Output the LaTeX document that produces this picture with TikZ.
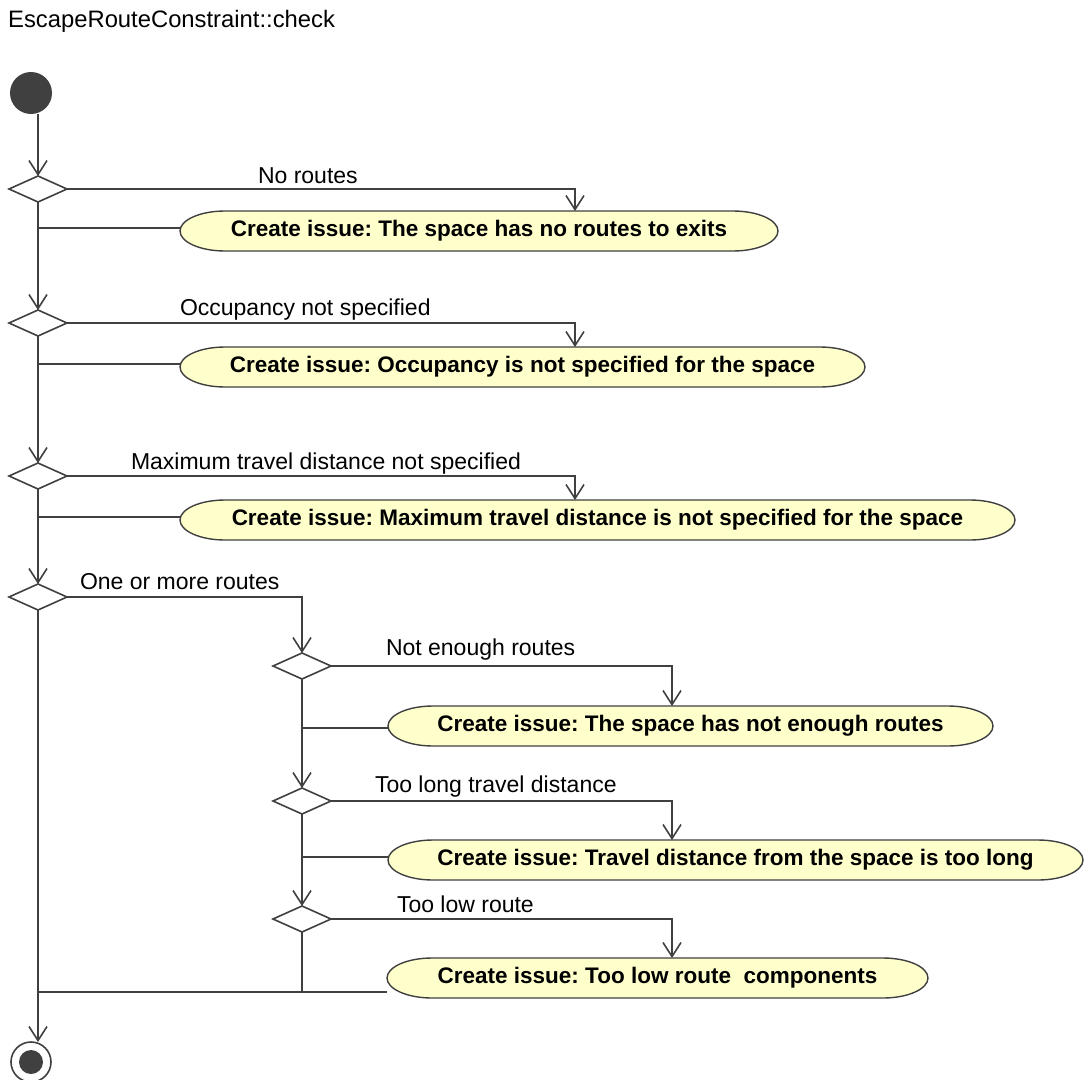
\documentclass[tikz,border=0pt]{standalone}
\usepackage{fontspec}
\setmainfont{Liberation Sans}
\usetikzlibrary{arrows.meta,shapes.geometric}
\definecolor{ink}{HTML}{404040}
\definecolor{actfill}{HTML}{FFFFCC}
\frenchspacing
\tikzset{
  line/.style={draw=ink, line width=1.6pt},
  flow/.style={line, -{Straight Barb[length=14pt,width=18pt]}},
  decision/.style={diamond, draw=ink, line width=1.6pt, fill=white, minimum width=58pt, minimum height=26pt, inner sep=0pt, outer sep=0pt},
  acttext/.style={font=\fontsize{22.5}{26}\selectfont\bfseries, inner sep=0pt, outer sep=0pt, minimum height=40pt},
  guard/.style={font=\fontsize{23}{27}\selectfont, inner sep=0pt, outer sep=0pt, anchor=base west},
  actshape/.style={draw=ink, line width=1.4pt, fill=actfill},
}
% name, left x, right x, center y, width, text
\newcommand{\actionbox}[6]{%
  \path[actshape] ({#2+45},{#4-20}) -- ({#3-45},{#4-20})
     arc[start angle=90,end angle=-90,x radius=45pt,y radius=20pt]
     -- ({#2+45},{#4+20})
     arc[start angle=270,end angle=90,x radius=45pt,y radius=20pt] -- cycle;
  \node[acttext, minimum width=#5pt] (#1) at ({(#2+#3)/2},#4) {#6};
}
\begin{document}
\begin{tikzpicture}[x=1pt,y=-1pt]
\useasboundingbox (0,0) rectangle (1084,1079);
\fill[white] (0,0) rectangle (1084,1079);

\node[font=\fontsize{23.8}{28}\selectfont, anchor=base west, inner sep=0pt] (title) at (8,27) {EscapeRouteConstraint::check};

% start / end
\node[circle, fill=ink, minimum size=42pt, inner sep=0pt, outer sep=0pt] (start) at (31,93) {};
\node[circle, draw=ink, line width=1.6pt, minimum size=40pt, inner sep=0pt, outer sep=0pt] (final) at (31,1062) {};
\node[circle, fill=ink, minimum size=24pt, inner sep=0pt] (finaldot) at (final.center) {};

% decisions
\node[decision] (d1) at (38,189) {};
\node[decision] (d2) at (38,323) {};
\node[decision] (d3) at (38,476) {};
\node[decision] (d4) at (38,597) {};
\node[decision] (d5) at (302,666) {};
\node[decision] (d6) at (302,801) {};
\node[decision] (d7) at (302,919) {};

% actions
\actionbox{a1}{180}{778}{231}{598}{Create issue: The space has no routes to exits}
\actionbox{a2}{180}{865}{367}{685}{Create issue: Occupancy is not specified for the space}
\actionbox{a3}{180}{1015}{520}{835}{Create issue: Maximum travel distance is not specified for the space}
\actionbox{a4}{388}{993}{726}{605}{Create issue: The space has not enough routes}
\actionbox{a5}{388}{1083}{860}{695}{Create issue: Travel distance from the space is too long}
\actionbox{a6}{387}{928}{978}{541}{Create issue: Too low route~~components}

% guards
\node[guard] (g1) at (258,183) {No routes};
\node[guard] (g2) at (180,315) {Occupancy not specified};
\node[guard] (g3) at (131,469) {Maximum travel distance not specified};
\node[guard] (g4) at (80,589) {One or more routes};
\node[guard] (g5) at (386,655) {Not enough routes};
\node[guard] (g6) at (375,792) {Too long travel distance};
\node[guard] (g7) at (397,912) {Too low route};

% main spine
\draw[flow] (start.south -| d1.north) -- (d1.north);
\draw[flow] (d1.south) -- (d2.north);
\draw[flow] (d2.south) -- (d3.north);
\draw[flow] (d3.south) -- (d4.north);
\draw[flow] (d4.south) -- (d4.south |- final.north);

% branches
\draw[flow] (d1.east) -| ([xshift=96pt]a1.north);
\draw[flow] (d2.east) -| ([xshift=52.5pt]a2.north);
\draw[flow] (d3.east) -| ([xshift=-22.5pt]a3.north);
\draw[flow] (d4.east) -| (d5.north);
\draw[flow] (d5.east) -| ([xshift=-18.5pt]a4.north);
\draw[flow] (d6.east) -| ([xshift=-63.5pt]a5.north);
\draw[flow] (d7.east) -| ([xshift=14.5pt]a6.north);

% sub spine
\draw[flow] (d5.south) -- (d6.north);
\draw[flow] (d6.south) -- (d7.north);

% joins
\draw[line] ([yshift=3pt]a1.west) -- ([yshift=3pt]a1.west -| d1.south);
\draw[line] ([yshift=3pt]a2.west) -- ([yshift=3pt]a2.west -| d2.south);
\draw[line] ([yshift=3pt]a3.west) -- ([yshift=3pt]a3.west -| d3.south);
\draw[line] ([yshift=-2pt]a4.west) -- ([yshift=-2pt]a4.west -| d5.south);
\draw[line] ([yshift=3pt]a5.west) -- ([yshift=3pt]a5.west -| d6.south);
\coordinate (m) at ([yshift=-14pt]a6.west);
\draw[line] (m) -- (m -| d4.south);
\draw[line] (d7.south) -- (d7.south |- m);
\end{tikzpicture}
\end{document}
